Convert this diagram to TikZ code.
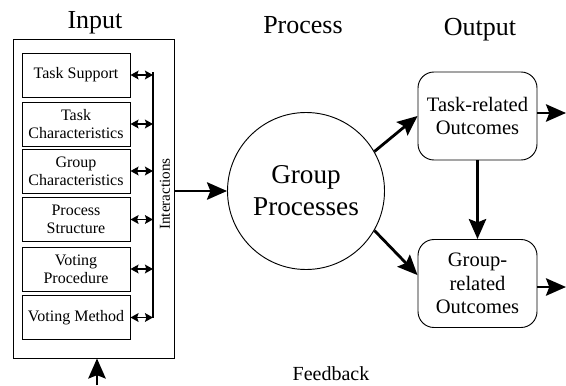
\documentclass[tikz,border=0pt]{standalone}
\usepackage{fontspec}
\setmainfont{Liberation Serif}
\usetikzlibrary{arrows.meta}
\begin{document}
\begin{tikzpicture}[x=0.75pt, y=-0.75pt,
	every node/.style={rectangle}, text centered,
	inbox/.style={draw, line width=.7pt, minimum width=81pt, minimum height=33pt, align=center, font=\fontsize{12}{13.5}\selectfont},
	outbox/.style={draw, line width=.7pt, rounded corners=12pt, minimum width=89.25pt, minimum height=66pt, align=center, font=\fontsize{15.4}{17.5}\selectfont},
	title/.style={font=\fontsize{19.5}{22}\selectfont},
	arr/.style={line width=2.1pt, -{Stealth[length=15pt, width=13pt, inset=2.5pt]}},
	dbl/.style={line width=1.3pt, {Stealth[length=6pt, width=6.5pt, inset=1pt]}-{Stealth[length=6pt, width=6.5pt, inset=1pt]}}]
	\useasboundingbox (0,0) rectangle (566,385);
	\node[title] (inputText) at (95, 23) {Input};
	\node[title] (processText) at (303, 25) {Process};
	\node[title] (outputText) at (480, 30) {Output};
	\node[font=\fontsize{15}{17}\selectfont] (feedbackText) at (331, 374) {Feedback};
	\node[draw, line width=.7pt, minimum width=120.75pt, minimum height=239.25pt] (inputbox) at (93.5, 198.5) {};
	\node[inbox] (tasksupport) at (76, 75) {Task Support};
	\node[inbox] (taskchar) at (76, 124) {Task\\Characteristics};
	\node[inbox] (groupchar) at (76, 171) {Group\\Characteristics};
	\node[inbox] (processstruct) at (76, 219.5) {Process\\Structure};
	\node[inbox] (votingproc) at (76, 269) {Voting\\Procedure};
	\node[inbox] (votingmethod) at (76, 317.5) {Voting Method};
	\coordinate (bartop) at (153, 72);
	\coordinate (barbot) at (153, 318);
	\draw[line width=1.3pt] (bartop) -- (barbot);
	\draw[dbl] (tasksupport.east) -- (tasksupport.east -| bartop);
	\draw[dbl] (taskchar.east) -- (taskchar.east -| bartop);
	\draw[dbl] (groupchar.east) -- (groupchar.east -| bartop);
	\draw[dbl] (processstruct.east) -- (processstruct.east -| bartop);
	\draw[dbl] (votingproc.east) -- (votingproc.east -| bartop);
	\draw[dbl] (votingmethod.east) -- (votingmethod.east -| bartop);
	\node[rotate=90, font=\fontsize{11.4}{13}\selectfont] (interText) at (165, 194) {Interactions};
	\node[circle, draw, line width=.7pt, minimum size=117.75pt, align=center, font=\fontsize{20.4}{24}\selectfont] (groupproc) at (306, 191) {Group\\Processes};
	\node[outbox] (taskout) at (477.5, 116) {Task-related\\Outcomes};
	\node[outbox] (groupout) at (477.5, 283.5) {Group-\\related\\Outcomes};
	\coordinate (taskend) at (566, 113);
	\coordinate (groupend) at (566, 287);
	\coordinate (fbstart) at (97, 385);
	\draw[arr] (inputbox.east |- groupproc.west) -- (groupproc.west);
	\draw[arr] (groupproc.30) -- (taskout.west);
	\draw[arr] (groupproc.-30) -- (groupout.172);
	\draw[arr] (taskout.south) -- (groupout.north);
	\draw[arr] (taskout.east |- taskend) -- (taskend);
	\draw[arr] (groupout.east |- groupend) -- (groupend);
	\draw[arr] (fbstart) -- (fbstart |- inputbox.south);
\end{tikzpicture}
\end{document}
